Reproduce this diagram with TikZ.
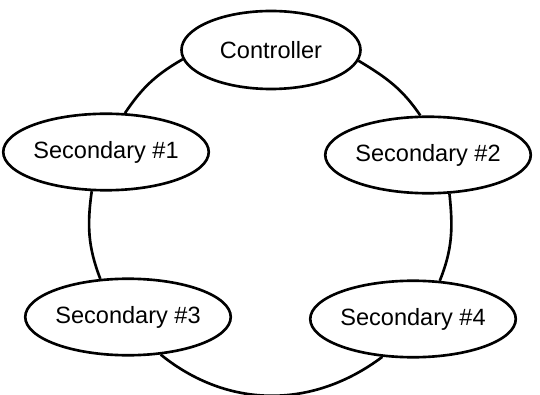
\documentclass[tikz,border=0pt]{standalone}
\usepackage{fontspec}
\setmainfont{Liberation Sans}
\usepackage{tikz}
\usetikzlibrary{shapes.geometric}

\begin{document}
\begin{tikzpicture}[scale=1.0, every node/.style={font=\fontsize{13.4}{16}\selectfont},
    station/.style={ellipse, draw, line width=1.5pt, fill=white, inner sep=0pt,
        minimum width=3.58cm, minimum height=1.53cm},
    ring/.style={line width=1.5pt}]
    % Frame
    \useasboundingbox (0,0) rectangle (10.8,7.88);
    % Stations
    \node[station, minimum height=1.56cm] (ctrl) at (5.42,6.88) {Controller};
    \node[station] (sec1) at (2.12,4.84) {Secondary \#1};
    \node[station] (sec2) at (8.56,4.78) {Secondary \#2};
    \node[station] (sec3) at (2.56,1.54) {Secondary \#3};
    \node[station] (sec4) at (8.26,1.50) {Secondary \#4};
    % Ring
    \draw[ring] (ctrl.186) to[out=210, in=56] (sec1.64);
    \draw[ring] (sec1.250) to[out=262, in=111] (sec3.126);
    \draw[ring] (sec3.311) to[out=321, in=217] (sec4.231);
    \draw[ring] (sec4.55) to[out=68, in=276] (sec2.299);
    \draw[ring] (sec2.101) to[out=124, in=329] (ctrl.353);
\end{tikzpicture}
\end{document}
